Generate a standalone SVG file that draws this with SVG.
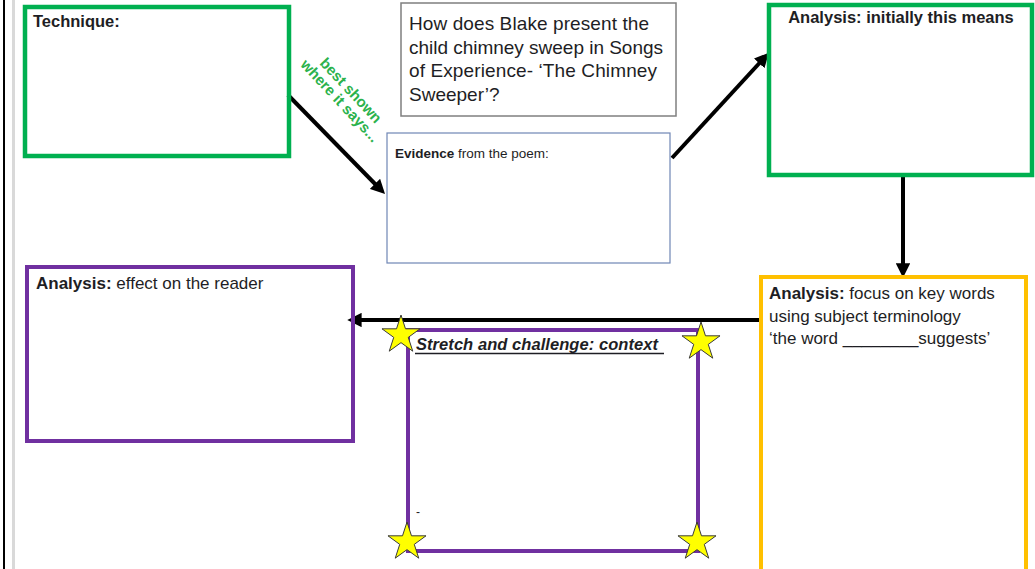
<svg xmlns="http://www.w3.org/2000/svg" xmlns:xlink="http://www.w3.org/1999/xlink" width="1035" height="569" viewBox="0 0 1035 569">
<style>
text{font-family:"Liberation Sans",Arial,sans-serif;fill:#1e1e24}
.b{font-weight:bold}
.green{fill:none;stroke:#00B050;stroke-width:4.5}
.purple{fill:none;stroke:#7030A0;stroke-width:4}
.yellow{fill:none;stroke:#FFC000;stroke-width:4}
.conn{fill:none;stroke:#000;stroke-width:4;marker-end:url(#ah)}
.star{fill:#FFFF00;stroke:#3a3a3a;stroke-width:1}
</style>
<defs>
<marker id="ah" viewBox="0 0 10 10" refX="6" refY="5" markerWidth="3.6" markerHeight="3.6" orient="auto" markerUnits="strokeWidth">
<path d="M0,0 L10,5 L0,10 z" fill="#000"/>
</marker>
<path id="star" d="M0,-20 L4.49,-6.18 L19.02,-6.18 L7.27,2.36 L11.76,16.18 L0,7.64 L-11.76,16.18 L-7.27,2.36 L-19.02,-6.18 L-4.49,-6.18 Z"/>
</defs>
<rect width="1035" height="569" fill="#fff"/>
<line x1="4" y1="0" x2="4" y2="569" stroke="#000" stroke-width="2"/>
<line x1="13.5" y1="0" x2="13.5" y2="569" stroke="#d9d9d9" stroke-width="3"/>

<g id="connectors">
<line class="conn" x1="288" y1="95" x2="381" y2="190"/>
<line class="conn" x1="672" y1="158" x2="765" y2="57"/>
<line class="conn" x1="903" y1="177" x2="903" y2="272"/>
<line class="conn" x1="760" y1="320" x2="353" y2="320"/>
</g>

<g id="technique">
<rect class="green" x="25" y="7" width="264" height="149"/>
<text class="b" x="33" y="27" font-size="16.5">Technique:</text>
</g>

<g id="label-best-shown">
<g transform="translate(345,96) rotate(47)">
<text x="0" y="-3" font-size="15" class="b" text-anchor="middle" style="fill:#2bb24c">best shown</text>
<text x="0" y="12" font-size="15" class="b" text-anchor="middle" style="fill:#2bb24c">where it says...</text>
</g>
</g>

<g id="question">
<rect x="401" y="3" width="275" height="113" fill="#fff" stroke="#7f7f7f" stroke-width="1.5"/>
<text font-size="19">
<tspan x="409" y="30" textLength="240">How does Blake present the</tspan>
<tspan x="409" y="54" textLength="254">child chimney sweep in Songs</tspan>
<tspan x="409" y="77" textLength="248">of Experience- ‘The Chimney</tspan>
<tspan x="409" y="101">Sweeper’?</tspan>
</text>
</g>

<g id="evidence">
<rect x="387" y="133" width="283" height="130" fill="#fff" stroke="#6f86b5" stroke-width="1.2"/>
<text x="395" y="158" font-size="13.5"><tspan class="b">Evidence</tspan> from the poem:</text>
</g>

<g id="analysis-initially">
<rect class="green" x="769" y="5" width="263" height="170"/>
<text class="b" x="901" y="23" font-size="16.5" text-anchor="middle">Analysis: initially this means</text>
</g>

<g id="analysis-keywords">
<rect class="yellow" x="761" y="277" width="265" height="300"/>
<text font-size="17">
<tspan x="769" y="299"><tspan class="b">Analysis:</tspan> focus on key words</tspan>
<tspan x="769" y="322">using subject terminology</tspan>
<tspan x="769" y="344">‘the word ________suggests’</tspan>
</text>
</g>

<g id="analysis-reader">
<rect class="purple" x="27" y="267" width="326" height="174"/>
<text x="36" y="289" font-size="17"><tspan class="b">Analysis:</tspan> effect on the reader</text>
</g>

<g id="stretch">
<rect class="purple" x="408" y="330" width="290" height="221" stroke-width="3.5"/>
<text x="416" y="350" font-size="16.5" class="b" font-style="italic" textLength="242">Stretch and challenge: context</text>
<line x1="415" y1="353.5" x2="664" y2="353.5" stroke="#1e1e24" stroke-width="1.3"/>
<text x="416" y="516" font-size="12">-</text>
<use href="#star" class="star" x="401" y="335"/>
<use href="#star" class="star" x="701" y="342"/>
<use href="#star" class="star" x="407" y="542"/>
<use href="#star" class="star" x="697" y="542"/>
</g>
</svg>
